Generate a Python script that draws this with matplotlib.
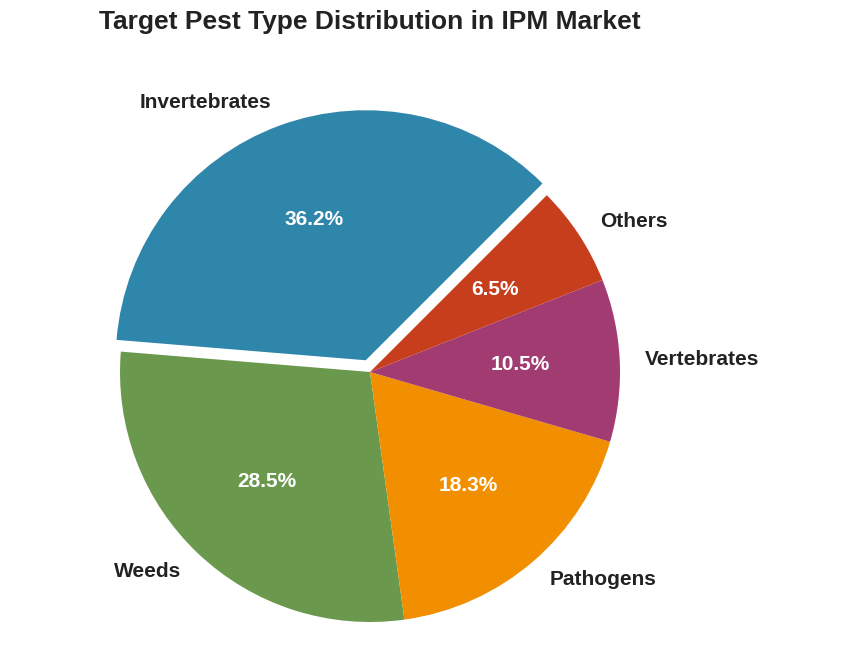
import matplotlib.pyplot as plt

plt.rcParams['font.family'] = ['Liberation Sans', 'DejaVu Sans']

categories = ['Invertebrates', 'Weeds', 'Pathogens', 'Vertebrates', 'Others']
shares = [36.2, 28.5, 18.3, 10.5, 6.5]
colors = ['#2E86AB', '#6A994E', '#F18F01', '#A23B72', '#C73E1D']
explode = [0.05, 0, 0, 0, 0]

fig = plt.figure(figsize=(8.62, 6.6), dpi=100)
ax = fig.add_axes([0, 0, 1, 1])

wedges, texts, autotexts = ax.pie(
    shares, labels=categories, colors=colors, explode=explode,
    startangle=45, autopct='%1.1f%%', pctdistance=0.6, labeldistance=1.1,
    textprops={'fontsize': 15, 'fontweight': 'bold', 'color': '#222222'})
for t in autotexts:
    t.set_color('white')
    t.set_fontsize(15)

# pie centre at about (370, 372) px, radius 250 px
ax.set_xlim(-370 / 250, (862 - 370) / 250)
ax.set_ylim(-(660 - 372) / 250, 372 / 250)
ax.set_aspect('equal')
ax.axis('off')

fig.text(370 / 862, 1 - 22 / 660, 'Target Pest Type Distribution in IPM Market',
         ha='center', va='center', fontsize=19, fontweight='bold', color='#222222')

fig.savefig('out.png', dpi=100)
